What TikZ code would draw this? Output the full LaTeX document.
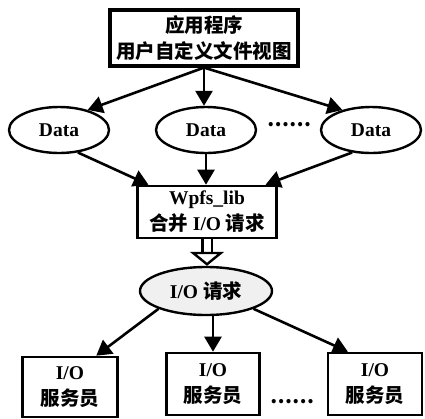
\documentclass[tikz,border=0pt]{standalone}
\usepackage{fontspec}
\setmainfont{Liberation Serif}
\newfontfamily\cjk{Noto Sans CJK SC}
\usetikzlibrary{arrows.meta, shapes.geometric}

\begin{document}
\begin{tikzpicture}[x=1pt, y=-1pt,
    txt/.style={font=\fontsize{19.5}{26}\selectfont\bfseries, align=center, inner sep=0pt},
    box/.style={txt, draw, line width=2.6pt},
    data/.style={txt, draw, ellipse, line width=2.4pt, minimum width=100pt, minimum height=46pt},
    arr/.style={line width=2.6pt, -{Triangle[length=15pt, width=17pt]}},
    hollow/.style={double, line width=2.4pt, double distance=7pt, -{Triangle[open, length=14pt, width=34pt]}}]
    \useasboundingbox (0,0) rectangle (425,418);

    % application layer
    \node[box, line width=3.2pt, minimum width=188pt, minimum height=56pt] (app) at (204,38)
        {{\cjk 应用程序}\\{\cjk 用户自定义文件视图}};

    % per-process data blocks
    \node[data] (d1) at (59,130) {Data};
    \node[data] (d2) at (206,130) {Data};
    \node[data] (d3) at (371,130) {Data};
    \node[txt] (gap1) at (289,125) {\cjk ……};

    \draw[arr] (app.south) -- (d1.35);
    \draw[arr] (app.south) -- (app.south |- d2.north);
    \draw[arr] (app.south) -- (d3.145);

    % merging library
    \node[box, minimum width=139pt, minimum height=52pt] (lib) at (207,212)
        {Wpfs\_lib\\{\cjk 合并} I/O {\cjk 请求}};

    \draw[arr] (d1.-50) -- (lib.155);
    \draw[arr] (d2.south) -- (d2.south |- lib.north);
    \draw[arr] (d3.230) -- (lib.25);

    % merged request
    \node[data, fill=gray!12, minimum width=132pt, minimum height=48pt] (req) at (206,291)
        {I/O {\cjk 请求}};
    \draw[hollow] (lib.south) -- (lib.south |- req.north);

    % servers
    \node[box, minimum width=95pt, minimum height=60pt] (s1) at (70,387) {I/O\\{\cjk 服务员}};
    \node[box, minimum width=93pt, minimum height=62pt] (s2) at (213,384) {I/O\\{\cjk 服务员}};
    \node[box, minimum width=94pt, minimum height=62pt] (s3) at (375,384) {I/O\\{\cjk 服务员}};
    \node[txt] (gap2) at (292,402) {\cjk ……};

    \draw[arr] (req.south west) -- (s1.50);
    \draw[arr] (req.south -| s2.north) -- (s2.north);
    \draw[arr] (req.south east) -- (s3.130);
\end{tikzpicture}
\end{document}
